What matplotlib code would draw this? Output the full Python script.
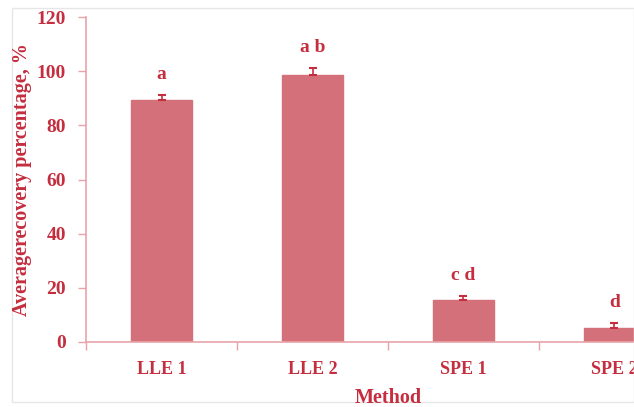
import matplotlib
matplotlib.use("Agg")
import matplotlib.pyplot as plt
from matplotlib.patches import Rectangle

categories = ["LLE 1", "LLE 2", "SPE 1", "SPE 2"]
values = [89.4, 98.6, 15.5, 5.2]
errors = [1.8, 2.4, 1.6, 1.8]
letters = ["a", "a b", "c d", "d"]
yticks = [0, 20, 40, 60, 80, 100, 120]

bar_color = "#D4707A"
axis_color = "#E8A3AA"
text_color = "#C42E3F"

plt.rcParams["font.family"] = ["Liberation Serif", "DejaVu Serif"]
plt.rcParams["font.weight"] = "bold"

fig = plt.figure(figsize=(6.34, 4.07), dpi=100)
W, H = 634, 407
x0, x1 = 86, 690
y0, y1 = 342, 17
ax = fig.add_axes([x0 / W, 1 - y0 / H, (x1 - x0) / W, (y0 - y1) / H])

pos = list(range(len(categories)))
ax.bar(pos, values, width=0.40, color=bar_color, edgecolor=bar_color, zorder=2)
ax.errorbar(pos, values, yerr=[[0] * 4, errors], fmt="none", ecolor=text_color,
            elinewidth=1.2, capsize=3, capthick=1.5, zorder=3)
for p, v, e, t in zip(pos, values, errors, letters):
    ax.text(p, v + e + 4.5, t, ha="center", va="bottom", color=text_color,
            fontsize=14, fontweight="bold")

ax.set_xlim(-0.5, 3.5)
ax.set_ylim(0, 120)
ax.set_yticks(yticks)
ax.set_xticks(pos)
ax.set_xticklabels(categories)
ax.set_xticks([-0.5, 0.5, 1.5, 2.5], minor=True)
ax.tick_params(axis="x", which="major", length=0, pad=14, labelsize=13,
               labelcolor=text_color)
ax.tick_params(axis="x", which="minor", length=6, color=axis_color, width=1)
ax.tick_params(axis="y", length=6, color=axis_color, width=1, labelsize=14,
               labelcolor=text_color, pad=8.5)
for lab in ax.get_xticklabels() + ax.get_yticklabels():
    lab.set_fontweight("bold")
for s in ["top", "right"]:
    ax.spines[s].set_visible(False)
for s in ["left", "bottom"]:
    ax.spines[s].set_color(axis_color)
    ax.spines[s].set_linewidth(1.2)

fig.text(388 / W, 1 - 398 / H, "Method", ha="center", va="center",
         color=text_color, fontsize=14.5, fontweight="bold")
fig.text(22 / W, 1 - 180 / H, "Averagerecovery percentage, %", ha="center",
         va="center", rotation=90, color=text_color, fontsize=14.5,
         fontweight="bold")

fig.patches.append(Rectangle((12 / W, 1 - 402 / H), (W - 12) / W, (402 - 8) / H,
                             transform=fig.transFigure, fill=False,
                             edgecolor="#E6E6E6", linewidth=1))

fig.savefig("out.png", dpi=100)
